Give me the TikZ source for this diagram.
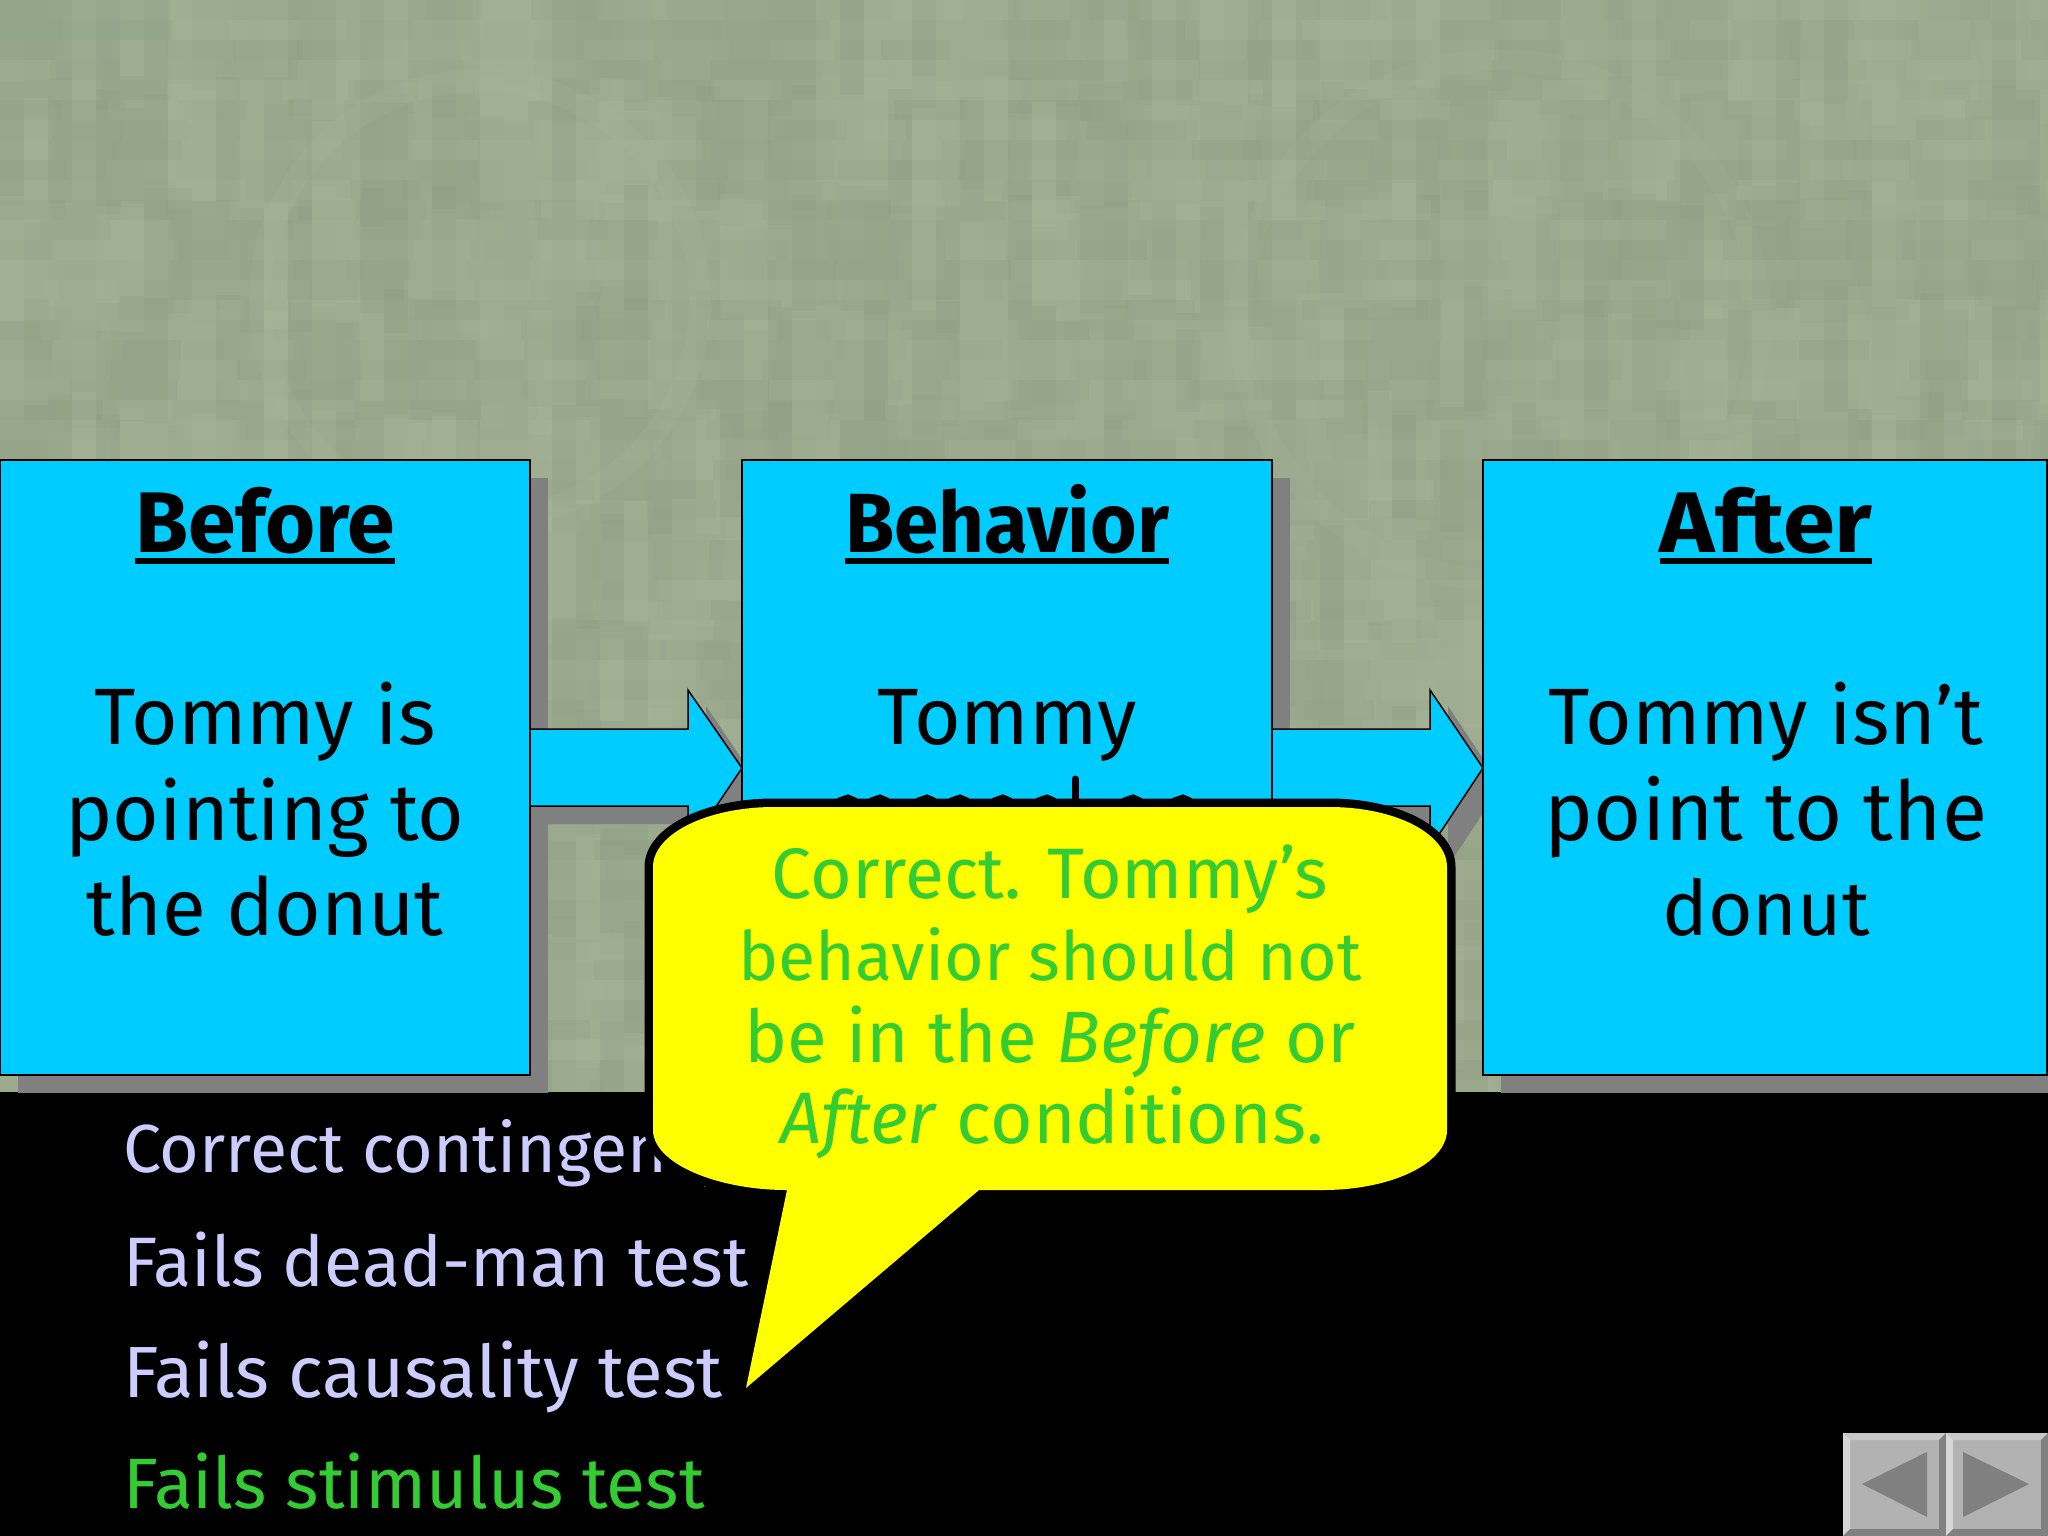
\documentclass[tikz,border=0pt]{standalone}
\usepackage{fontspec}
\setmainfont{Fira Sans}
\pgfmathsetseed{42}
\definecolor{cyanbox}{HTML}{00CCFF}
\definecolor{shadowgray}{HTML}{808080}
\definecolor{sage}{HTML}{9CAA8E}
\definecolor{sageL}{HTML}{A9B79B}
\definecolor{sageD}{HTML}{8F9D82}
\definecolor{teal}{HTML}{8CA88C}
\definecolor{lav}{HTML}{CCCCFF}
\definecolor{grn}{HTML}{33CC33}
\definecolor{yel}{HTML}{FFFF00}
\definecolor{face}{HTML}{B2B2B2}
\newcommand{\fs}[1]{\fontsize{#1}{#1}\selectfont}
\tikzset{
  x=1pt,y=-1pt,
  flowbox/.style={draw=black,line width=1.5pt,fill=cyanbox},
  boxhead/.style={text=black,inner sep=0pt,anchor=base},
  headrule/.style={draw=black,line width=6pt},
  boxtext/.style={font=\fs{80},text=black,inner sep=0pt,anchor=base},
  listtext/.style={anchor=base west,inner sep=0pt},
  bubbletext/.style={text=grn,inner sep=0pt,anchor=base},
  inkmark/.style={draw=black,line width=7pt,line cap=round},
}
\newcommand{\bubblepath}{(787,1190) -- (746,1388) -- (979,1190) -- (1323,1190)
  .. controls (1392,1190) and (1447,1163) .. (1447,1130)
  -- (1447,867)
  .. controls (1447,834) and (1396,807) .. (1329,807)
  -- (774,807)
  .. controls (707,807) and (653,834) .. (653,867)
  -- (653,1130)
  .. controls (653,1163) and (716,1190) .. (787,1190) -- cycle}
\begin{document}
\begin{tikzpicture}
\useasboundingbox (0,0) rectangle (2048,1536);
\fill[sage] (0,0) rectangle (2048,1092);
% mottled background: tall strips, then wide flecks
\begin{scope}
\clip (0,0) rectangle (2048,1092);
\foreach \i in {0,...,85}{\foreach \j in {0,...,10}{
  \pgfmathsetmacro{\op}{0.08+0.3*rnd}
  \pgfmathparse{rnd>0.5?1:0}
  \ifnum\pgfmathresult=1 \def\cc{sageL}\else\def\cc{sageD}\fi
  \fill[\cc,opacity=\op] (\i*24,\j*105-30*rnd) rectangle ++(24,125);
}}
\foreach \i in {0,...,34}{\foreach \j in {0,...,54}{
  \pgfmathsetmacro{\op}{0.04+0.2*rnd}
  \pgfmathparse{rnd>0.5?1:0}
  \ifnum\pgfmathresult=1 \def\cc{sageL}\else\def\cc{sageD}\fi
  \fill[\cc,opacity=\op] (\i*60-20*rnd,\j*20) rectangle ++(70,20);
}}
\draw[sageL,opacity=.2,line width=22pt] (480,300) circle[radius=220];
\draw[sageL,opacity=.15,line width=22pt] (1500,320) circle[radius=260];
\fill[teal,opacity=.3] (0,0) rectangle (170,40);
\end{scope}
\fill[black] (0,1092) rectangle (2048,1536);
% shadows
\fill[shadowgray] (18,478) rectangle (548,1093);
\fill[shadowgray] (760,478) rectangle (1290,1093);
\fill[shadowgray] (1501,478) rectangle (2048,1093);
\fill[shadowgray] (530,747) -- (706,747) -- (706,706) -- (760,786) -- (706,866) -- (706,824) -- (530,824) -- cycle;
\fill[shadowgray] (1272,747) -- (1448,747) -- (1448,706) -- (1501,786) -- (1448,866) -- (1448,824) -- (1272,824) -- cycle;
% arrows
\draw[flowbox] (530,729) -- (688,729) -- (688,690) -- (742,768) -- (688,848) -- (688,806) -- (530,806) -- cycle;
\draw[flowbox] (1272,729) -- (1430,729) -- (1430,690) -- (1483,768) -- (1430,848) -- (1430,806) -- (1272,806) -- cycle;
% boxes
\draw[flowbox] (0,460) rectangle (530,1075);
\draw[flowbox] (742,460) rectangle (1272,1075);
\draw[flowbox] (1483,460) rectangle (2047,1075);
\node[boxhead,font=\fs{86}\bfseries] (h1) at (265,552) {Before};
\node[boxhead,font=\fs{84}\bfseries] (h2) at (1007,552) {\scalebox{.95}[1]{Behavior}};
\node[boxhead,font=\fs{86}\bfseries] (h3) at (1766,552) {\scalebox{1.09}[1]{After}};
\draw[headrule] ([yshift=-9pt]h1.base west) -- ([yshift=-9pt]h1.base east);
\draw[headrule] ([yshift=-9pt]h2.base west) -- ([yshift=-9pt]h2.base east);
\draw[headrule] ([yshift=-9pt]h3.base west) -- ([yshift=-9pt]h3.base east);
\node[boxtext] (t1) at (265,744) {Tommy is};
\node[boxtext] (t1b) at (265,840) {pointing to};
\node[boxtext] (t1c) at (265,935) {the donut};
\node[boxtext] (t2) at (1007,744) {Tommy};
\node[boxtext] (t3) at (1766,744) {Tommy isn’t};
\node[boxtext,font=\fs{82.5}] (t3b) at (1766,840) {point to the};
\node[boxtext,font=\fs{76.5}] (t3c) at (1766,935) {donut};
% tops of the covered second line in the middle box
\draw[inkmark] (1075,779) -- (1075,800);
\foreach \mx in {848,880,927,960,1003,1047,1133,1183}{
  \draw[inkmark,line width=5pt] (\mx-9,800) -- (\mx,797) -- (\mx+7,800);
}
% list
\node[listtext,text=lav,font=\fs{68}] (l1) at (123,1172) {Correct contingency};
\node[listtext,text=lav,font=\fs{70}] (l2) at (123,1286) {Fails dead-man test};
\node[listtext,text=lav,font=\fs{72.5}] (l3) at (123,1397) {Fails causality test};
\node[listtext,text=grn,font=\fs{71.3}] (l4) at (123,1508) {Fails stimulus test};
% bubble: black outline beneath, yellow fill on top
\draw[black,line width=17pt,line join=round] \bubblepath;
\fill[yel] \bubblepath;
\node[bubbletext,font=\fs{71.5}] (b1) at (1050,898) {Correct. Tommy’s};
\node[bubbletext,font=\fs{68}] (b2) at (1050,980) {behavior should not};
\node[bubbletext,font=\fs{72.7}] (b3) at (1050,1062) {be in the \textit{Before} or};
\node[bubbletext,font=\fs{73}] (b4) at (1052,1143) {\textit{After} conditions.};
% nav buttons
\fill[face] (1843,1433) rectangle (1946,1536);
\fill[face] (1946,1433) rectangle (2048,1536);
\fill[black!22] (1843,1433) -- (1946,1433) -- (1939,1440) -- (1850,1440) -- cycle;
\fill[black!16] (1843,1433) -- (1850,1440) -- (1850,1529) -- (1843,1536) -- cycle;
\fill[shadowgray] (1946,1433) -- (1939,1440) -- (1939,1529) -- (1946,1536) -- cycle;
\fill[shadowgray] (1843,1536) -- (1850,1529) -- (1939,1529) -- (1946,1536) -- cycle;
\fill[black!22] (1946,1433) -- (2048,1433) -- (2041,1440) -- (1953,1440) -- cycle;
\fill[black!16] (1946,1433) -- (1953,1440) -- (1953,1529) -- (1946,1536) -- cycle;
\fill[shadowgray] (2048,1433) -- (2041,1440) -- (2041,1529) -- (2048,1536) -- cycle;
\fill[shadowgray] (1946,1536) -- (1953,1529) -- (2041,1529) -- (2048,1536) -- cycle;
\fill[shadowgray] (1862,1484) -- (1927,1452) -- (1927,1517) -- cycle;
\fill[shadowgray] (1963,1452) -- (1963,1517) -- (2029,1484) -- cycle;
\end{tikzpicture}
\end{document}
